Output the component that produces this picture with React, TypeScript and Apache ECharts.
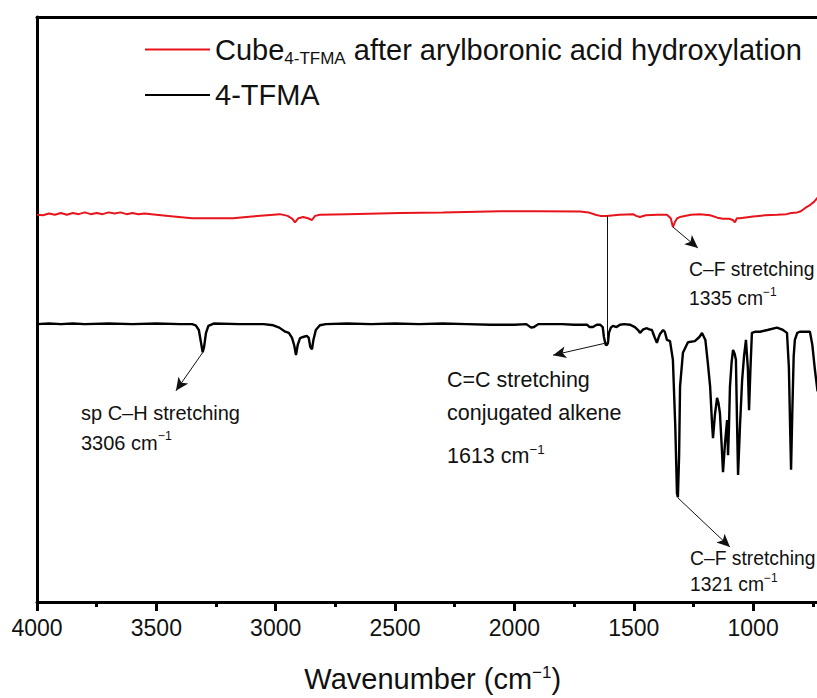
import { useEffect, useRef } from "react";
import * as echarts from "echarts";

const FONT = "'Liberation Sans', Arial, sans-serif";

// wavenumber (cm-1), transmittance (a.u.)
const tfmaSpectrum: [number, number][] = [
  [4000, 47.5], [3950, 47.6], [3900, 47.5], [3850, 47.6], [3800, 47.5], [3700, 47.6], [3600, 47.5],
  [3500, 47.6], [3400, 47.5], [3350, 47.5], [3335, 47.3], [3322, 46.5], [3314, 44.6], [3306, 42.7],
  [3300, 43.6], [3292, 46.0], [3282, 47.2], [3260, 47.6], [3150, 47.5], [3050, 47.5], [3010, 47.3],
  [2985, 46.9], [2960, 46.2], [2945, 46.0], [2932, 45.2], [2922, 43.8], [2915, 42.2], [2908, 43.9],
  [2898, 45.1], [2885, 45.3], [2870, 45.5], [2862, 45.2], [2855, 43.6], [2848, 43.2], [2842, 44.8],
  [2832, 46.5], [2815, 47.3], [2790, 47.5], [2700, 47.6], [2600, 47.5], [2500, 47.6], [2400, 47.5],
  [2300, 47.6], [2200, 47.5], [2100, 47.4], [2000, 47.4], [1950, 47.5], [1930, 46.9], [1918, 47.0],
  [1900, 47.5], [1800, 47.5], [1750, 47.4], [1710, 47.4], [1696, 47.4], [1685, 47.0], [1671, 47.0],
  [1655, 47.4], [1641, 47.4], [1630, 47.0], [1625, 45.3], [1618, 44.0], [1613, 43.9], [1608, 44.3],
  [1604, 46.0], [1596, 46.9], [1587, 47.2], [1572, 47.0], [1558, 47.4], [1540, 47.5], [1516, 47.4],
  [1495, 47.0], [1480, 46.4], [1474, 46.0], [1460, 46.6], [1445, 46.8], [1435, 46.6], [1424, 46.5],
  [1413, 45.3], [1403, 44.3], [1396, 45.2], [1390, 45.8], [1377, 46.5], [1370, 46.2], [1361, 44.8],
  [1348, 44.6], [1336, 41.4], [1326, 30.0], [1319, 18.6], [1315, 17.9], [1310, 25.0], [1306, 36.8],
  [1294, 42.6], [1273, 44.4], [1244, 44.6], [1225, 45.3], [1214, 46.0], [1200, 44.8], [1190, 41.0],
  [1180, 36.8], [1172, 30.5], [1168, 28.0], [1160, 32.0], [1151, 34.9], [1145, 34.0], [1139, 32.3],
  [1132, 27.0], [1126, 22.2], [1118, 27.0], [1109, 31.1], [1105, 25.1], [1101, 30.0], [1097, 36.8],
  [1090, 41.0], [1084, 43.1], [1077, 42.4], [1072, 41.4], [1067, 30.0], [1063, 21.7], [1055, 30.0],
  [1046, 37.9], [1038, 42.0], [1030, 44.8], [1022, 40.0], [1017, 32.8], [1011, 40.0], [1005, 46.0],
  [990, 46.2], [971, 46.2], [940, 46.5], [900, 46.9], [875, 46.5], [858, 46.0], [850, 40.0],
  [845, 30.0], [841, 22.6], [836, 32.0], [830, 42.0], [825, 44.8], [815, 46.0], [804, 46.2],
  [780, 46.2], [762, 46.2], [752, 44.0], [741, 39.7], [730, 36.0],
];

const cubeSpectrum: [number, number][] = [
  [4000, 66.2], [3975, 66.1], [3950, 66.4], [3925, 66.2], [3900, 66.5], [3875, 66.2], [3850, 66.5],
  [3825, 66.3], [3800, 66.6], [3775, 66.3], [3750, 66.5], [3725, 66.3], [3700, 66.6], [3675, 66.4],
  [3650, 66.6], [3625, 66.3], [3600, 66.5], [3575, 66.3], [3550, 66.4], [3500, 66.2], [3450, 66.0],
  [3350, 65.6], [3250, 65.6], [3179, 65.6], [3100, 65.9], [2982, 66.3], [2950, 66.0], [2930, 65.5],
  [2919, 64.9], [2905, 65.6], [2885, 65.8], [2865, 65.6], [2848, 65.3], [2835, 66.0], [2815, 66.2],
  [2700, 66.3], [2479, 66.5], [2300, 66.6], [2060, 66.8], [1900, 66.8], [1725, 66.75], [1690, 66.6],
  [1660, 66.2], [1641, 66.0], [1613, 66.0], [1560, 66.2], [1503, 66.3], [1490, 66.0], [1474, 65.8],
  [1450, 66.1], [1400, 66.2], [1361, 66.2], [1345, 65.6], [1336, 64.1], [1328, 64.9], [1318, 65.6],
  [1307, 65.8], [1260, 66.2], [1223, 66.3], [1180, 66.1], [1150, 65.7], [1126, 65.5], [1100, 65.5],
  [1085, 65.3], [1076, 64.9], [1068, 65.6], [1055, 65.6], [1000, 65.9], [950, 66.1], [900, 66.2],
  [860, 66.3], [840, 66.5], [815, 66.6], [800, 66.8], [780, 67.4], [760, 67.9], [745, 68.4], [730, 69.1],
];

const seriesNames = ["Cube after arylboronic acid hydroxylation", "4-TFMA"];
const xMin = 500;
const xMax = 4000;
const xStep = 500;

// annotation arrows: [from, to] in data coordinates
const arrows: [[number, number], [number, number]][] = [
  [[3305, 42.7], [3418, 36.1]],
  [[1613, 44.3], [1838, 42.2]],
  [[1336, 64.1], [1231, 60.5]],
  [[1315, 17.8], [1097, 9.4]],
];
const connector: [[number, number], [number, number]] = [[1613, 66.0], [1613, 44.3]];

const annotationLines: { text: string; sup?: string; x: number; y: number; size: number }[] = [
  { text: "sp C\u2013H stretching", x: 81, y: 411, size: 20 },
  { text: "3306 cm", sup: "\u22121", x: 81, y: 441, size: 20 },
  { text: "C=C stretching", x: 447, y: 379, size: 21.5 },
  { text: "conjugated alkene", x: 447, y: 412, size: 21.5 },
  { text: "1613 cm", sup: "\u22121", x: 447, y: 455, size: 21.5 },
  { text: "C\u2013F stretching", x: 689, y: 268, size: 19.3 },
  { text: "1335 cm", sup: "\u22121", x: 689, y: 297, size: 19.3 },
  { text: "C\u2013F stretching", x: 690, y: 557, size: 19.3 },
  { text: "1321 cm", sup: "\u22121", x: 690, y: 583, size: 19.3 },
];

export default function App() {
  const ref = useRef<HTMLDivElement>(null);
  useEffect(() => {
    if (!ref.current) return;
    const chart = echarts.init(ref.current, undefined, { renderer: "svg" });
    chart.setOption({
      animation: false,
      backgroundColor: "#fff",
      grid: { left: 37, top: 17, width: ((xMax - xMin) / xStep) * 119.35, height: 585 },
      legend: {
        orient: "vertical",
        left: 140,
        top: 30,
        itemWidth: 65,
        itemHeight: 2,
        itemGap: 14,
        icon: "rect",
        data: seriesNames,
        textStyle: {
          fontFamily: FONT,
          fontSize: 29,
          color: "#111",
          rich: {
            a: { fontSize: 29, fontFamily: FONT, color: "#111", lineHeight: 34, verticalAlign: "middle" },
            b: { fontSize: 17, fontFamily: FONT, color: "#111", lineHeight: 17, verticalAlign: "bottom" },
          },
        },
        formatter: (name: string) =>
          name === seriesNames[0]
            ? "{a|Cube}{b|4-TFMA}{a| after arylboronic acid hydroxylation}"
            : "{a|4-TFMA}",
      },
      xAxis: [
        {
          type: "value",
          min: xMin,
          max: xMax,
          interval: xStep,
          inverse: true,
          position: "bottom",
          name: "Wavenumber (cm{s|\u22121})",
          nameLocation: "middle",
          nameGap: 62,
          nameTextStyle: {
            fontFamily: FONT,
            fontSize: 29,
            color: "#111",
            padding: [0, 44, 0, 0],
            rich: {
              s: { fontSize: 17, fontFamily: FONT, color: "#111", lineHeight: 15, verticalAlign: "top" },
            },
          },
          axisLine: { show: true, onZero: false, lineStyle: { color: "#000", width: 3 } },
          axisTick: { show: true, inside: false, length: 9, lineStyle: { color: "#000", width: 3 } },
          minorTick: { show: true, splitNumber: 2, length: 5, lineStyle: { color: "#000", width: 3 } },
          splitLine: { show: false },
          minorSplitLine: { show: false },
          axisLabel: {
            fontFamily: FONT,
            fontSize: 23,
            color: "#111",
            margin: 14,
            formatter: (v: number) => (v === xMin ? "" : String(v)),
          },
        },
        {
          type: "value",
          min: xMin,
          max: xMax,
          inverse: true,
          position: "top",
          axisLine: { show: true, onZero: false, lineStyle: { color: "#000", width: 3 } },
          axisTick: { show: false },
          axisLabel: { show: false },
          splitLine: { show: false },
        },
      ],
      yAxis: {
        type: "value",
        min: 0,
        max: 100,
        axisLine: { show: true, onZero: false, lineStyle: { color: "#000", width: 3 } },
        axisTick: { show: false },
        axisLabel: { show: false },
        splitLine: { show: false },
      },
      series: [
        {
          name: seriesNames[0],
          type: "line",
          data: cubeSpectrum,
          symbol: "none",
          showSymbol: false,
          lineStyle: { color: "#e8141c", width: 2 },
          itemStyle: { color: "#e8141c" },
          z: 3,
        },
        {
          name: seriesNames[1],
          type: "line",
          data: tfmaSpectrum,
          symbol: "none",
          showSymbol: false,
          lineStyle: { color: "#000", width: 2.4 },
          itemStyle: { color: "#000" },
          z: 2,
          markLine: {
            silent: true,
            symbol: ["none", "arrow"],
            symbolSize: [9, 13],
            label: { show: false },
            lineStyle: { color: "#111", width: 1, type: "solid" },
            emphasis: { disabled: true },
            data: [
              [
                { coord: connector[0], symbol: "none" },
                { coord: connector[1], symbol: "none" },
              ],
              ...arrows.map(([a, b]) => [{ coord: a }, { coord: b }]),
            ],
          },
        },
      ],
      graphic: annotationLines.map((l) => ({
        type: "text",
        x: l.x,
        y: l.y,
        silent: true,
        style: {
          text: l.sup ? `{n|${l.text}}{s|${l.sup}}` : `{n|${l.text}}`,
          rich: {
            n: { fontSize: l.size, fontFamily: FONT, color: "#111", lineHeight: l.size + 3, verticalAlign: "bottom" },
            s: { fontSize: l.size * 0.62, fontFamily: FONT, color: "#111", lineHeight: l.size * 0.62, verticalAlign: "top" },
          },
          fill: "#111",
          align: "left",
          verticalAlign: "middle",
        },
      })),
    });
    return () => chart.dispose();
  }, []);
  return (
    <div style={{ position: "absolute", left: 0, top: 0, width: 817, height: 698, overflow: "hidden" }}>
      <div ref={ref} style={{ width: 900, height: 698 }} />
    </div>
  );
}
